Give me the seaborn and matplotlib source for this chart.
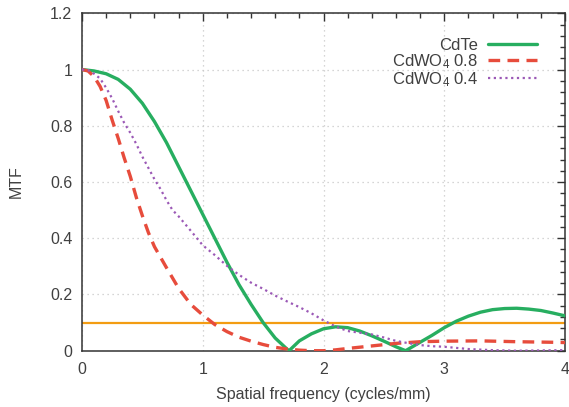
import matplotlib
matplotlib.use("Agg")
import matplotlib.pyplot as plt
from matplotlib.ticker import MultipleLocator
import seaborn as sns
import pandas as pd

# ---- data ----
cdte_x = [0, 0.1, 0.2, 0.3, 0.4, 0.5, 0.6, 0.7, 0.8, 0.9, 1.0, 1.1, 1.2, 1.3, 1.4, 1.5, 1.6, 1.7, 1.715,
          1.8, 1.9, 2.0, 2.1, 2.2, 2.3, 2.4, 2.5, 2.6, 2.68,
          2.8, 2.9, 3.0, 3.1, 3.2, 3.3, 3.4, 3.5, 3.6, 3.7, 3.8, 3.9, 4.0]
cdte_y = [1.0, 0.995, 0.985, 0.965, 0.93, 0.88, 0.815, 0.74, 0.655, 0.57, 0.485, 0.40, 0.315, 0.235, 0.165,
          0.10, 0.045, 0.005, 0.0,
          0.035, 0.06, 0.078, 0.085, 0.082, 0.07, 0.053, 0.034, 0.014, 0.0,
          0.03, 0.055, 0.082, 0.105, 0.123, 0.137, 0.146, 0.150, 0.151, 0.148, 0.143, 0.134, 0.124]

cdwo8_x = [0, 0.05, 0.1, 0.15, 0.2, 0.25, 0.3, 0.35, 0.4, 0.45, 0.5, 0.55, 0.6, 0.7, 0.8, 0.9, 1.0,
           1.1, 1.2, 1.3, 1.4, 1.5, 1.6, 1.7, 1.8, 1.9, 2.0, 2.1, 2.2, 2.4, 2.6, 2.8, 3.0, 3.3, 3.6, 3.9, 4.0]
cdwo8_y = [1.0, 0.995, 0.975, 0.94, 0.89, 0.82, 0.755, 0.685, 0.62, 0.545, 0.48, 0.42, 0.37, 0.295, 0.222,
           0.165, 0.127, 0.093, 0.068, 0.048, 0.034, 0.022, 0.012, 0.006, 0.002, 0.0, 0.0, 0.003, 0.008,
           0.017, 0.026, 0.032, 0.034, 0.035, 0.032, 0.030, 0.029]

cdwo4_x = [0, 0.05, 0.1, 0.15, 0.2, 0.25, 0.3, 0.35, 0.4, 0.45, 0.5, 0.55, 0.6, 0.65, 0.7, 0.75, 0.8, 0.9,
           1.0, 1.1, 1.2, 1.3, 1.4, 1.5, 1.6, 1.7, 1.8, 1.9, 2.0, 2.1, 2.2, 2.3, 2.4, 2.5, 2.6, 2.7, 2.8,
           2.9, 3.0, 3.2, 3.4, 3.6, 4.0]
cdwo4_y = [1.0, 0.998, 0.985, 0.968, 0.935, 0.897, 0.852, 0.81, 0.775, 0.735, 0.69, 0.65, 0.61, 0.575, 0.535,
           0.50, 0.478, 0.427, 0.375, 0.34, 0.302, 0.27, 0.242, 0.22, 0.196, 0.175, 0.155, 0.133, 0.108,
           0.086, 0.07, 0.064, 0.058, 0.047, 0.035, 0.027, 0.02, 0.016, 0.014, 0.006, 0.002, 0.0, 0.002]

threshold = 0.1
labels = ["CdTe", "CdWO$_4$ 0.8", "CdWO$_4$ 0.4"]
colors = ["#27ae60", "#e74c3c", "#9b59b6"]
thr_color = "#f39c12"

# ---- style ----
sns.set_theme(style="white")
plt.rcParams["font.family"] = ["Liberation Sans", "DejaVu Sans"]
plt.rcParams["mathtext.fontset"] = "custom"
plt.rcParams["mathtext.rm"] = "Liberation Sans"
plt.rcParams["mathtext.it"] = "Liberation Sans"
txt = "#404040"

fig = plt.figure(figsize=(5.69, 4.07), dpi=100)
ax = fig.add_axes([0.1441, 0.1383, 0.8489, 0.829])

df1 = pd.DataFrame({"x": cdte_x, "y": cdte_y})
df2 = pd.DataFrame({"x": cdwo8_x, "y": cdwo8_y})
df3 = pd.DataFrame({"x": cdwo4_x, "y": cdwo4_y})

ax.axhline(threshold, color=thr_color, lw=1.6, zorder=2)
sns.lineplot(data=df1, x="x", y="y", ax=ax, color=colors[0], lw=2.4, label=labels[0], zorder=3)
sns.lineplot(data=df2, x="x", y="y", ax=ax, color=colors[1], lw=2.4, label=labels[1],
             zorder=3).lines[-1].set_dashes((3.5, 2.2))
sns.lineplot(data=df3, x="x", y="y", ax=ax, color=colors[2], lw=1.6, label=labels[2],
             zorder=3).lines[-1].set_dashes((1, 1.6))
for ln in ax.lines:
    ln.set_solid_joinstyle("round")
    ln.set_dash_joinstyle("round")

ax.set_xlim(0, 4)
ax.set_ylim(0, 1.2)
ax.xaxis.set_minor_locator(MultipleLocator(0.2))
ax.yaxis.set_minor_locator(MultipleLocator(0.04))
ax.set_yticks([0, 0.2, 0.4, 0.6, 0.8, 1.0, 1.2])
ax.set_yticklabels(["0", "0.2", "0.4", "0.6", "0.8", "1", "1.2"])
ax.set_xticks([0, 1, 2, 3, 4])
ax.set_xticklabels(["0", "1", "2", "3", "4"])

ax.tick_params(which="both", direction="in", top=True, right=True, colors="#333333",
               labelcolor=txt, labelsize=11.5)
ax.tick_params(which="major", length=6, width=1)
ax.tick_params(which="minor", length=3.5, width=1)
ax.tick_params(axis="x", pad=8)
ax.tick_params(axis="y", pad=7)

ax.grid(True, which="major", color="#c8c8c8", linestyle=(0, (1, 3)), lw=0.9)
for s in ax.spines.values():
    s.set_color("#333333")
    s.set_linewidth(1.1)

ax.set_xlabel("Spatial frequency (cycles/mm)", fontsize=11.5, color=txt, labelpad=7)
ax.set_ylabel("MTF", fontsize=11.5, color=txt, labelpad=19)

leg = ax.legend(loc="upper right", frameon=False, markerfirst=False, fontsize=12,
                handlelength=2.9, handletextpad=0.6, labelspacing=-0.05,
                bbox_to_anchor=(0.955, 0.947), borderaxespad=0.0)
for t in leg.get_texts():
    t.set_color(txt)

fig.savefig("out.png", dpi=100)
